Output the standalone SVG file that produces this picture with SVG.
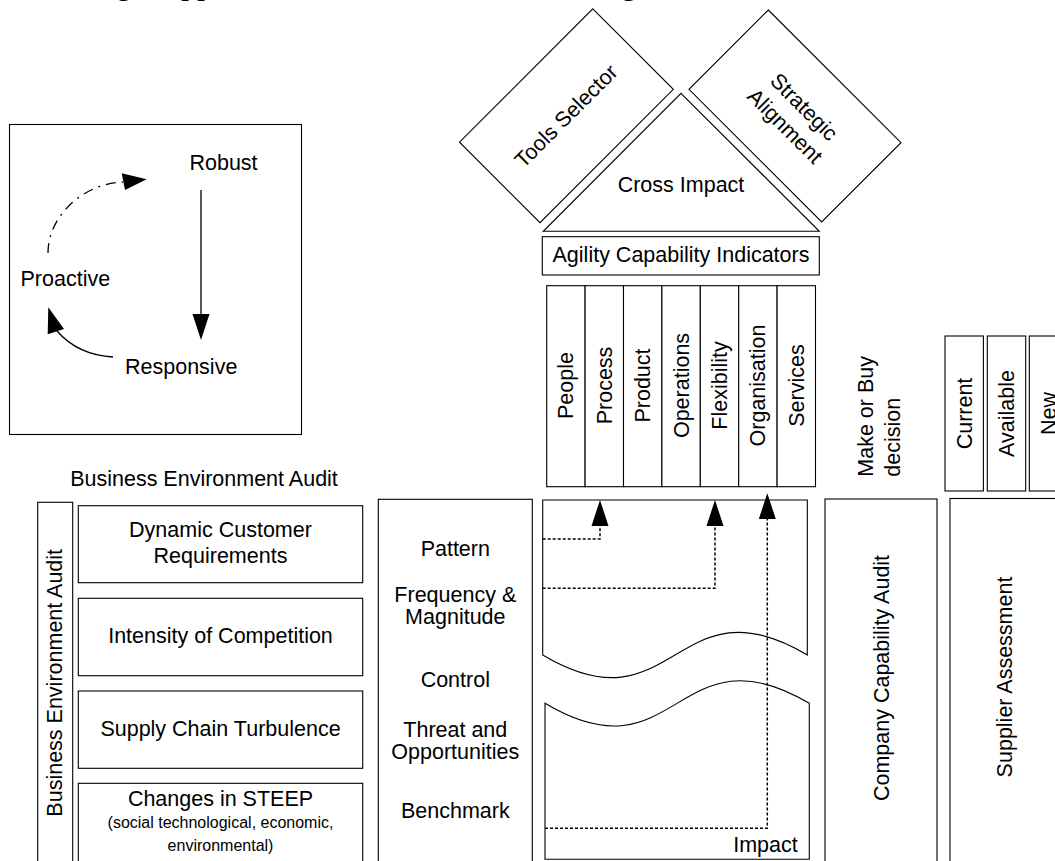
<svg xmlns="http://www.w3.org/2000/svg" width="1055" height="861" viewBox="0 0 1055 861">
<style>
text{font-family:"Liberation Sans",Arial,sans-serif;font-size:21.5px;fill:#000}
.m{text-anchor:middle}
.s{font-size:16px}
.b{fill:#fff;stroke:#000;stroke-width:1.1}
.ln{fill:none;stroke:#000;stroke-width:1.3}
.dot{fill:none;stroke:#000;stroke-width:1.5;stroke-dasharray:3,2}
.frag{font-family:"Liberation Serif","Times New Roman",serif;font-size:32px}
</style>
<rect width="1055" height="861" fill="#fff"/>
<g id="page-fragments">
<text class="frag" x="116" y="-6">g</text>
<text class="frag" x="181" y="-6">pp</text>
<text class="frag" x="621" y="-6">g</text>
</g>
<g id="cycle-box">
<rect class="b" x="9.5" y="124.5" width="292" height="310"/>
<text class="m" x="223.5" y="170">Robust</text>
<text x="20.5" y="285.5">Proactive</text>
<text x="125" y="374">Responsive</text>
</g>
<g id="cycle-connectors">
<line class="ln" x1="201" y1="190" x2="201" y2="316"/>
<polygon points="192.5,314 209.5,314 201,340"/>
<path class="ln" d="M113,357 Q78,355 57,331"/>
<polygon points="48.3,307.3 47.7,334.3 64,329"/>
<path d="M48,253 C48,215 85,183 123,182" fill="none" stroke="#000" stroke-width="1.3" stroke-dasharray="10,6,2,6"/>
<polygon points="146.7,179.3 121.7,173.3 125,190"/>
</g>
<g id="tools-selector">
<polygon class="b" points="592.8,8.8 673.3,89.3 540,222.7 459.5,142.2"/>
<text class="m" transform="translate(566,116) rotate(-45)" x="0" y="7.5">Tools Selector</text>
</g>
<g id="strategic-alignment">
<polygon class="b" points="768.3,10 901,142.7 821.7,222 689,89.3"/>
<text class="m" transform="translate(795,116) rotate(45)"><tspan x="0" y="-5.5">Strategic</tspan><tspan x="0" y="21.5">Alignment</tspan></text>
</g>
<g id="cross-impact">
<polygon class="b" points="681,93.3 819.3,231.3 543.3,231.3"/>
<text class="m" x="681" y="191.7">Cross Impact</text>
</g>
<g id="agility-indicators">
<rect class="b" x="542.3" y="236.7" width="277" height="38.3"/>
<text class="m" x="681" y="262.3">Agility Capability Indicators</text>
</g>
<g id="capability-columns">
<rect class="b" x="546.7" y="285.7" width="38.4" height="201"/>
<rect class="b" x="585.1" y="285.7" width="38.4" height="201"/>
<rect class="b" x="623.5" y="285.7" width="38.4" height="201"/>
<rect class="b" x="661.9" y="285.7" width="38.4" height="201"/>
<rect class="b" x="700.3" y="285.7" width="38.4" height="201"/>
<rect class="b" x="738.7" y="285.7" width="38.4" height="201"/>
<rect class="b" x="777.1" y="285.7" width="38.4" height="201"/>
<text class="m" transform="translate(573.4,385.5) rotate(-90)">People</text>
<text class="m" transform="translate(611.8,385.5) rotate(-90)">Process</text>
<text class="m" transform="translate(650.2,385.5) rotate(-90)">Product</text>
<text class="m" transform="translate(688.6,385.5) rotate(-90)">Operations</text>
<text class="m" transform="translate(727,385.5) rotate(-90)">Flexibility</text>
<text class="m" transform="translate(765.4,385.5) rotate(-90)">Organisation</text>
<text class="m" transform="translate(803.8,385.5) rotate(-90)">Services</text>
</g>
<g id="make-or-buy">
<text transform="translate(873.3,476.7) rotate(-90)">Make or Buy</text>
<text transform="translate(900,476.7) rotate(-90)">decision</text>
</g>
<g id="supplier-options">
<rect class="b" x="945" y="336" width="38.4" height="155"/>
<rect class="b" x="987.3" y="336" width="38.4" height="155"/>
<rect class="b" x="1029.3" y="336" width="38.4" height="155"/>
<text class="m" transform="translate(971.7,413.5) rotate(-90)">Current</text>
<text class="m" transform="translate(1014,413.5) rotate(-90)">Available</text>
<text class="m" transform="translate(1056,413.5) rotate(-90)">New</text>
</g>
<g id="company-capability-audit">
<rect class="b" x="825" y="499" width="112" height="365"/>
<text class="m" transform="translate(888.5,678) rotate(-90)">Company Capability Audit</text>
</g>
<g id="supplier-assessment">
<rect class="b" x="950" y="498.5" width="110" height="366"/>
<text class="m" transform="translate(1011.8,677) rotate(-90)">Supplier Assessment</text>
</g>
<g id="bea-header">
<text class="m" x="204" y="486">Business Environment Audit</text>
</g>
<g id="bea-vertical">
<rect class="b" x="37.7" y="502.3" width="35" height="362"/>
<text class="m" transform="translate(61.7,682.8) rotate(-90)">Business Environment Audit</text>
</g>
<g id="dynamic-customer">
<rect class="b" x="78.3" y="505.7" width="284.4" height="77"/>
<text class="m" x="220.5" y="537.3">Dynamic Customer</text>
<text class="m" x="220.5" y="563.3">Requirements</text>
</g>
<g id="intensity-competition">
<rect class="b" x="78.3" y="598.3" width="284.4" height="77.4"/>
<text class="m" x="220.5" y="643.3">Intensity of Competition</text>
</g>
<g id="supply-chain">
<rect class="b" x="78.3" y="691" width="284.4" height="77.3"/>
<text class="m" x="220.5" y="735.7">Supply Chain Turbulence</text>
</g>
<g id="steep">
<rect class="b" x="78.3" y="783.3" width="284.4" height="80"/>
<text class="m" x="220.5" y="805.7">Changes in STEEP</text>
<text class="m s" x="220.5" y="827.7">(social technological, economic,</text>
<text class="m s" x="220.5" y="850.7">environmental)</text>
</g>
<g id="impact-factors">
<rect class="b" x="378.3" y="499.3" width="154" height="365"/>
<text class="m" x="455.3" y="555.7">Pattern</text>
<text class="m" x="455.3" y="602.3">Frequency &amp;</text>
<text class="m" x="455.3" y="624">Magnitude</text>
<text class="m" x="455.3" y="686.7">Control</text>
<text class="m" x="455.3" y="737.3">Threat and</text>
<text class="m" x="455.3" y="759.3">Opportunities</text>
<text class="m" x="455.3" y="818.3">Benchmark</text>
</g>
<g id="impact">
<path class="b" d="M542.7,655 L542.7,500 L807.3,500 L807.3,655 C675,576.4 675,733.6 542.7,655 Z"/>
<path class="b" d="M545,703.3 C677,781.9 677,625 809.3,703.3 L809.3,859.3 L545,859.3 Z"/>
<text x="797.7" y="851.7" text-anchor="end">Impact</text>
</g>
<g id="impact-connectors">
<polyline class="dot" points="542.7,539 600,539 600,525"/>
<polygon points="600,500 591.5,526 608.5,526"/>
<polyline class="dot" points="542.7,588.3 715,588.3 715,525"/>
<polygon points="715,500 706.5,526 723.5,526"/>
<polyline class="dot" points="545,828.3 767.3,828.3 767.3,518"/>
<polygon points="767.3,493.3 758.8,519 775.8,519"/>
</g>
</svg>
